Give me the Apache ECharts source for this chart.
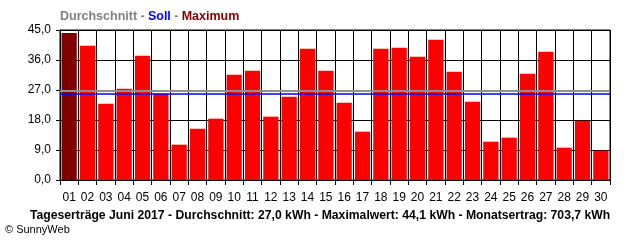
<!DOCTYPE html>
<html><head><meta charset="utf-8">
<script src="https://cdn.jsdelivr.net/npm/echarts@6/dist/echarts.min.js"></script>
<style>html,body{margin:0;padding:0;background:#fff}#c{width:640px;height:240px}</style>
</head><body><div id="c"></div>
<script>
const days = ['01','02','03','04','05','06','07','08','09','10','11','12','13','14','15','16','17','18','19','20','21','22','23','24','25','26','27','28','29','30'];
const yields = [44.1,40.3,22.9,27.4,37.3,25.9,10.6,15.4,18.4,31.6,32.8,19.0,25.0,39.4,32.8,23.2,14.5,39.4,39.7,37.0,42.1,32.5,23.5,11.5,12.7,31.9,38.5,9.7,17.8,8.8];
const averageLine = 26.7;
const targetLine = 25.8;
const yTicks = [0, 9, 18, 27, 36, 45];
const maxIndex = yields.indexOf(Math.max(...yields));

const font = 'Liberation Sans, Arial, sans-serif';
const chart = echarts.init(document.getElementById('c'), null, {renderer:'canvas'});
chart.setOption({
  animation: false,
  backgroundColor: '#fff',
  title: [{
    left: 60, top: 10, padding: 0,
    text: '{a|Durchschnitt} {b|-} {c|Soll} {b|-} {d|Maximum}',
    textStyle: {
      fontFamily: font, fontSize: 12, fontWeight: 'bold',
      rich: {
        a: {color:'#808080', fontWeight:'bold', fontSize:12.5, fontFamily:font},
        b: {color:'#808080', fontWeight:'bold', fontSize:12.5, fontFamily:font},
        c: {color:'#0000ff', fontWeight:'bold', fontSize:12.5, fontFamily:font},
        d: {color:'#800000', fontWeight:'bold', fontSize:12.5, fontFamily:font}
      }
    }
  },{
    left: 30, top: 210, padding: 0,
    text: 'Tageserträge Juni 2017 - Durchschnitt: 27,0 kWh - Maximalwert: 44,1 kWh - Monatsertrag: 703,7 kWh',
    textStyle: {fontFamily: font, fontSize: 12.2, fontWeight: 'bold', color: '#000'}
  },{
    left: 5, top: 224, padding: 0,
    text: '© SunnyWeb',
    textStyle: {fontFamily: font, fontSize: 11, fontWeight: 'normal', color: '#000'}
  }],
  grid: {left: 60, right: 30, top: 30, bottom: 60, show: true, borderColor: '#000', borderWidth: 1, backgroundColor: 'transparent'},
  xAxis: {
    type: 'category', data: days, boundaryGap: true,
    axisLine: {lineStyle: {color:'#000', width: 1}},
    axisTick: {show: true, interval: 0, length: 5, lineStyle: {color:'#000'}},
    axisLabel: {interval: 0, color:'#000', fontFamily: font, fontSize: 12, margin: 12},
    splitLine: {show: true, interval: 0, lineStyle: {color:'#000', width: 1}}
  },
  yAxis: {
    type: 'value', min: yTicks[0], max: yTicks[yTicks.length-1], interval: 9,
    axisLine: {show: true, lineStyle: {color:'#000'}},
    axisTick: {show: true, length: 4, lineStyle: {color:'#000'}},
    axisLabel: {color:'#000', fontFamily: font, fontSize: 12, margin: 9,
      formatter: v => v.toFixed(1).replace('.', ',')},
    splitLine: {show: true, lineStyle: {color:'#000', width: 1}}
  },
  series: [{
    type: 'bar',
    data: yields.map((v, i) => ({value: v, itemStyle: {color: i === maxIndex ? '#800000' : '#ff0000'}})),
    barCategoryGap: '17%',
    z: 2,
    markLine: {
      silent: true, symbol: 'none', label: {show: false}, z: 5,
      data: [
        {yAxis: averageLine, lineStyle: {color:'#909090', width: 2, type: 'solid'}},
        {yAxis: targetLine, lineStyle: {color:'#0000ff', width: 1.5, type: 'solid'}}
      ]
    }
  }]
});
</script></body></html>
